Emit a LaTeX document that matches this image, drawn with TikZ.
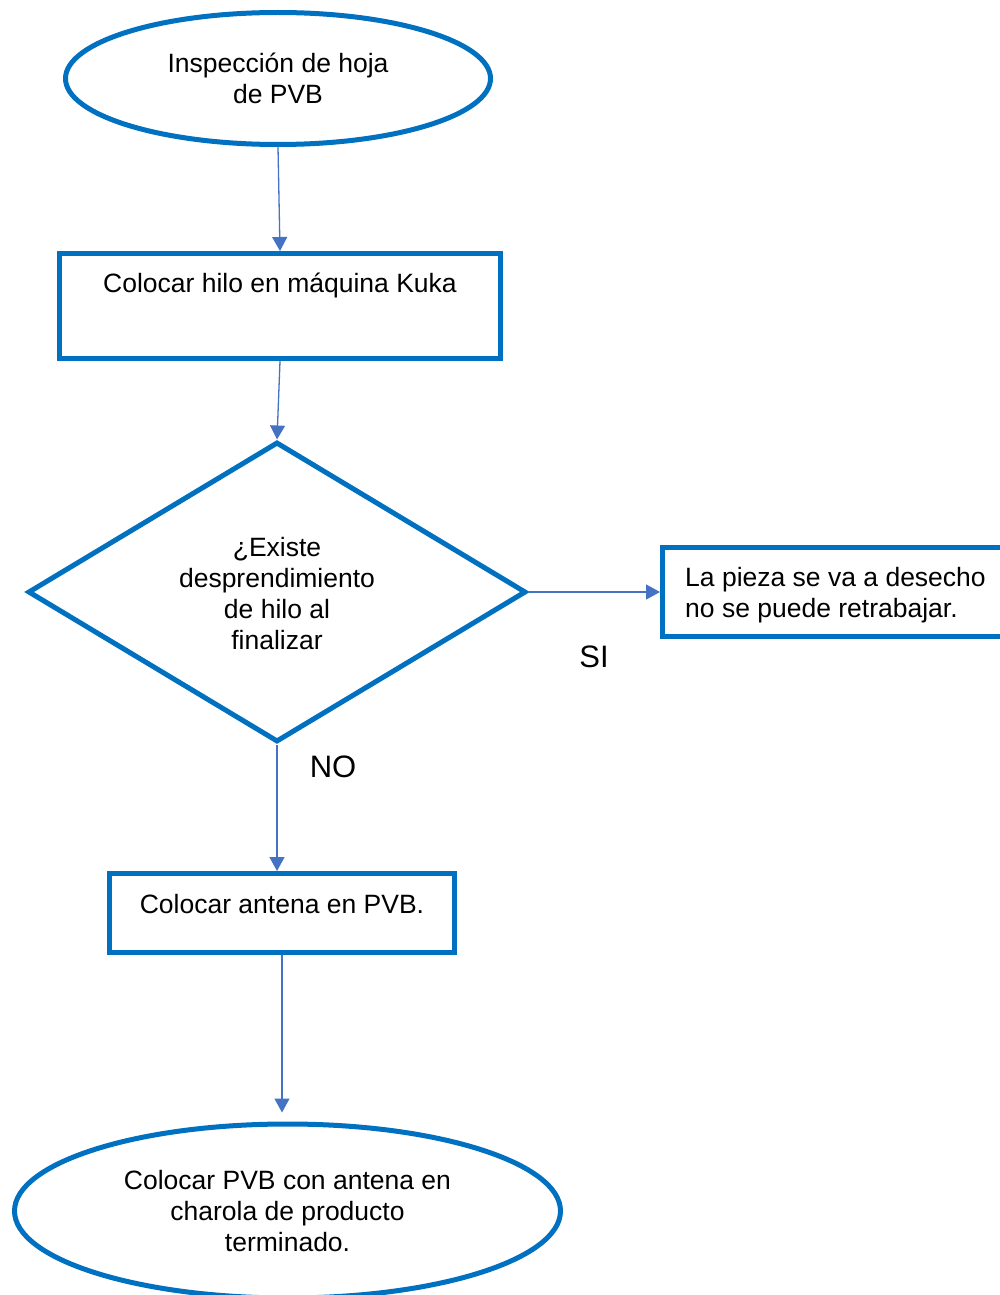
\documentclass[tikz,border=0pt]{standalone}
\usepackage{fontspec}
\setmainfont{Liberation Sans}
\usetikzlibrary{shapes.geometric,arrows.meta,calc}
\definecolor{boxblue}{HTML}{0070C0}
\definecolor{arrblue}{HTML}{4472C4}
\begin{document}
\begin{tikzpicture}[x=1pt,y=-1pt,
  blueline/.style={draw=boxblue,line width=5pt,inner sep=0pt,fill=white},
  oval/.style={blueline,ellipse},
  boxnode/.style={blueline,rectangle},
  decision/.style={blueline,diamond},
  txt/.style={font=\fontsize{26.5}{31}\selectfont,align=center,inner sep=0pt},
  lbl/.style={font=\fontsize{31}{36}\selectfont,inner sep=0pt},
  flow/.style={draw=arrblue,line width=1.3pt,-{Triangle[width=15pt,length=14pt]},arrblue}
]
\useasboundingbox (0,0) rectangle (1000,1295);
\fill[white] (0,0) rectangle (1000,1295);

% nodes
\node[oval,minimum width=425pt,minimum height=132pt,txt] (e1) at (278,78.5)
  {Inspección de hoja\\de PVB};
\node[boxnode,minimum width=441pt,minimum height=105pt] (r1) at (280,306) {};
\node[txt] (t1) at (280,285) {Colocar hilo en máquina Kuka};
\node[decision,minimum width=498pt,minimum height=300pt] (d) at (277,592) {};
\node[txt] (td) at (277,594) {¿Existe\\desprendimiento\\de hilo al\\finalizar};
\node[boxnode,minimum width=350pt,minimum height=89pt] (r2) at (837.5,592) {};
\node[txt,anchor=west,align=left] (t2) at (685,595) {La pieza se va a desecho\\no se puede retrabajar.};
\node[boxnode,minimum width=345pt,minimum height=79pt] (r3) at (282,913) {};
\node[txt] (t3) at (282,904) {Colocar antena en PVB.};
\node[oval,minimum width=546pt,minimum height=174pt,txt] (e2) at (287.5,1211)
  {Colocar PVB con antena en\\charola de producto\\terminado.};

\node[lbl] (si) at (594,657) {SI};
\node[lbl] (no) at (333,767) {NO};

% connectors
\draw[flow] (e1.south) -- (r1.north);
\draw[flow] (r1.south) -- (d.north);
\draw[flow] (d.east) -- (r2.west);
\draw[flow] (d.south) -- (d.south |- r3.north);
\draw[flow,shorten >=9pt] (r3.south) -- (r3.south |- e2.north);
\end{tikzpicture}
\end{document}
